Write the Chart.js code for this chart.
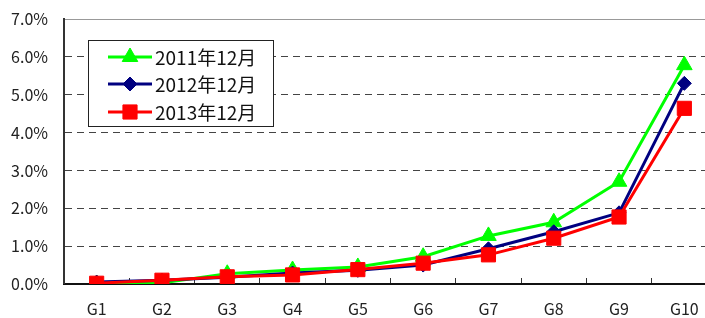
<!DOCTYPE html>
<html lang="ja">
<head>
  <meta charset="UTF-8">
  <title>2011-2013</title>
  <script src="https://cdn.jsdelivr.net/npm/chart.js"></script>
  <style>
    body { margin: 0; background: #fff; overflow: hidden; }
    #wrap { width: 717px; height: 318px; }
  </style>
</head>
<body>
  <div id="wrap"><canvas id="chart" width="717" height="318"></canvas></div>

  <script>
    const labels = ["G1", "G2", "G3", "G4", "G5", "G6", "G7", "G8", "G9", "G10"];
    const seriesNames = ["2011年12月", "2012年12月", "2013年12月"];
    const dec2011 = [0.00, 0.03, 0.27, 0.37, 0.45, 0.72, 1.27, 1.63, 2.70, 5.78];
    const dec2012 = [0.05, 0.10, 0.18, 0.29, 0.36, 0.50, 0.93, 1.38, 1.88, 5.30];
    const dec2013 = [0.02, 0.10, 0.19, 0.24, 0.38, 0.55, 0.77, 1.21, 1.77, 4.64];

    const FONT = '"Noto Sans CJK JP", "Noto Sans", sans-serif';

    // legend drawn inside the plot area, like the original
    const insideLegend = {
      id: 'insideLegend',
      afterDraw(chart) {
        const ctx = chart.ctx;
        const area = chart.chartArea;
        const bx = area.left + 24, by = area.top + 21, bw = 185, bh = 86;
        ctx.save();
        ctx.fillStyle = '#fff';
        ctx.fillRect(bx, by, bw, bh);
        ctx.strokeStyle = '#222';
        ctx.lineWidth = 1;
        ctx.strokeRect(bx + 0.5, by + 0.5, bw, bh);
        ctx.font = '19px ' + FONT;
        ctx.textBaseline = 'middle';
        const rows = [17, 44, 72];
        chart.data.datasets.forEach((ds, i) => {
          const y = by + rows[i];
          ctx.strokeStyle = ds.borderColor;
          ctx.lineWidth = 3;
          ctx.beginPath();
          ctx.moveTo(bx + 20, y);
          ctx.lineTo(bx + 64, y);
          ctx.stroke();
          ctx.fillStyle = ds.pointBackgroundColor;
          ctx.strokeStyle = ds.borderColor;
          ctx.lineWidth = 1;
          Chart.helpers.drawPoint(ctx, { pointStyle: ds.pointStyle, radius: ds.pointRadius, borderWidth: 1, rotation: 0 }, bx + 42, y);
          ctx.fillStyle = '#111';
          ctx.fillText(ds.label, bx + 67, y + 1);
        });
        ctx.restore();
      }
    };

    new Chart(document.getElementById('chart'), {
      type: 'line',
      data: {
        labels: labels,
        datasets: [
          {
            label: seriesNames[0], data: dec2011, order: 3,
            borderColor: '#00ff00', backgroundColor: '#00ff00', pointBackgroundColor: '#00ff00',
            borderWidth: 3, pointStyle: 'triangle', pointRadius: 9, pointBorderWidth: 1, tension: 0
          },
          {
            label: seriesNames[1], data: dec2012, order: 2,
            borderColor: '#000080', backgroundColor: '#000080', pointBackgroundColor: '#000080',
            borderWidth: 3, pointStyle: 'rectRot', pointRadius: 7, pointBorderWidth: 1, tension: 0
          },
          {
            label: seriesNames[2], data: dec2013, order: 1,
            borderColor: '#ff0000', backgroundColor: '#ff0000', pointBackgroundColor: '#ff0000',
            borderWidth: 3, pointStyle: 'rect', pointRadius: 10, pointBorderWidth: 1, tension: 0
          }
        ]
      },
      options: {
        responsive: false,
        animation: false,
        layout: { autoPadding: false, padding: { top: 19, right: 0, left: 0, bottom: 0 } },
        plugins: {
          legend: { display: false },
          tooltip: { enabled: false }
        },
        scales: {
          x: {
            offset: true,
            grid: { offset: true, drawOnChartArea: false, tickLength: -6, color: '#333', lineWidth: 1 },
            border: { color: '#111', width: 2 },
            ticks: { color: '#222', font: { family: FONT, size: 16 }, padding: 21, maxRotation: 0 },
            afterFit(scale) { scale.height = 34; scale.paddingLeft = 0; scale.paddingRight = 0; }
          },
          y: {
            min: 0, max: 7,
            grid: {
              drawTicks: false,
              color: ctx => (ctx.tick && ctx.tick.value === 7) ? '#999' : '#444',
              lineWidth: ctx => (ctx.tick && ctx.tick.value === 0) ? 0 : 1
            },
            border: {
              color: '#333', width: 2,
              dash: ctx => (ctx.tick && ctx.tick.value !== 7) ? [7, 5] : []
            },
            ticks: {
              stepSize: 1,
              color: '#222',
              font: { family: FONT, size: 16 },
              padding: 16,
              callback: v => v.toFixed(1) + '%'
            },
            afterFit(scale) { scale.width = 64; scale.paddingTop = 0; scale.paddingBottom = 0; }
          }
        }
      },
      plugins: [insideLegend]
    });
  </script>
</body>
</html>
